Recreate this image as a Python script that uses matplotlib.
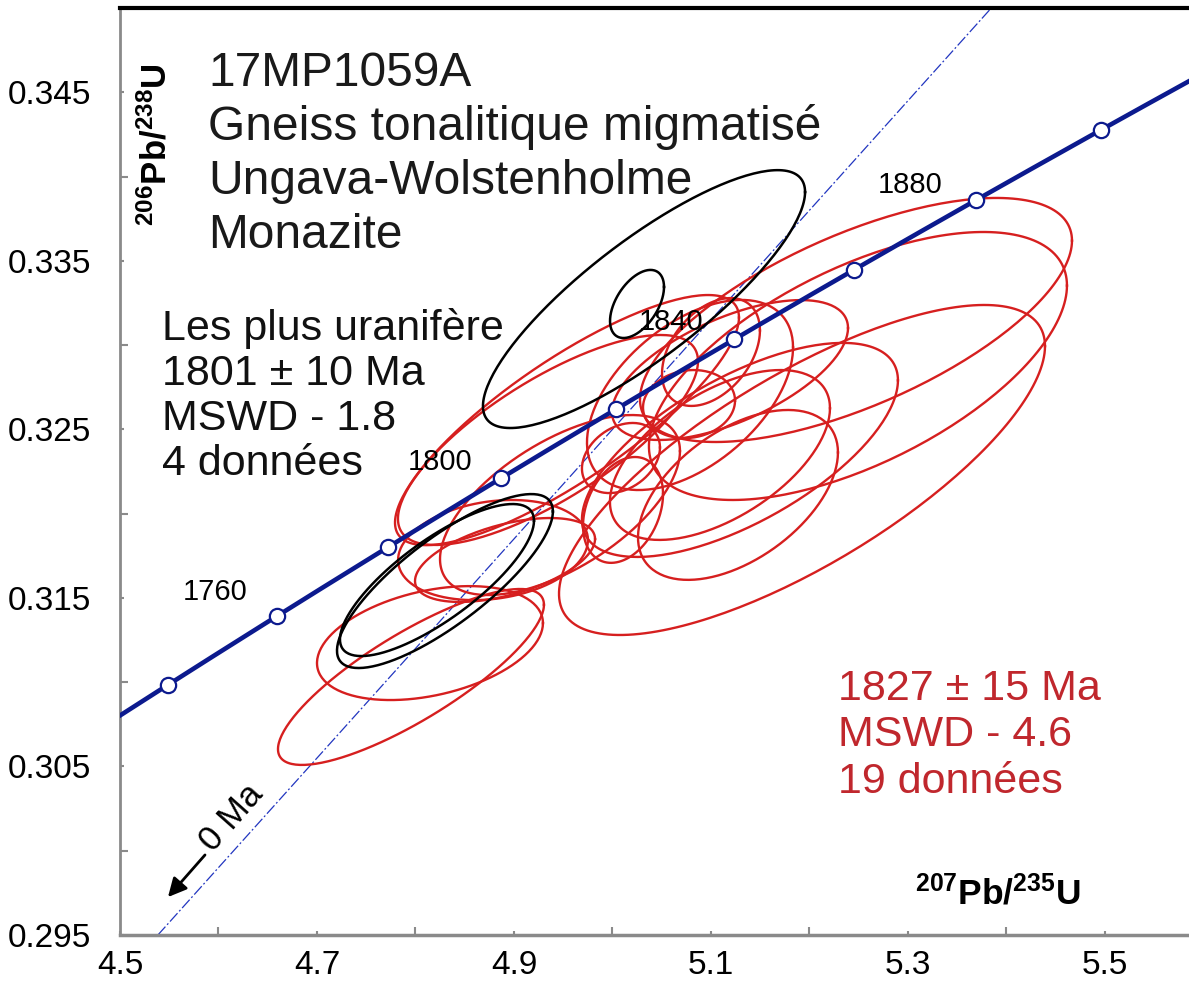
import numpy as np
import matplotlib
matplotlib.use("Agg")
import matplotlib.pyplot as plt
from matplotlib.ticker import FixedLocator

plt.rcParams['font.family'] = ['Liberation Sans', 'DejaVu Sans']
plt.rcParams['mathtext.fontset'] = 'custom'
plt.rcParams['mathtext.rm'] = 'Liberation Sans'
plt.rcParams['mathtext.bf'] = 'Liberation Sans:bold'

# Decay constants (1/yr)
LAMBDA_238 = 1.55125e-10
LAMBDA_235 = 9.8485e-10

# Concordia age markers (Ma)
marker_ages = [1740, 1760, 1780, 1800, 1820, 1840, 1860, 1880, 1900]
labelled_ages = [1760, 1800, 1840, 1880]

# Analyses: 207Pb/235U, error, 206Pb/238U, error, rho
# Most uraniferous group (black)
blk_x = [5.0320, 5.0249, 4.8299, 4.8218]
blk_sx = [0.1635, 0.0274, 0.1096, 0.0985]
blk_y = [0.33273, 0.33244, 0.31600, 0.31606]
blk_sy = [0.00765, 0.00202, 0.00516, 0.00451]
blk_rho = [0.83, 0.50, 0.80, 0.78]

# Main population (red)
red_x = [4.7954, 4.8147, 4.8787, 4.8909, 4.9538, 4.9345, 5.1000, 5.0777,
         5.0086, 5.0107, 5.1274, 5.2472, 5.2492, 5.1924, 5.1294, 5.1193,
         5.1091, 5.0787, 4.9467]
red_sx = [0.1350, 0.1147, 0.0964, 0.0914, 0.1746, 0.1523, 0.0497, 0.0467,
          0.0396, 0.0406, 0.1015, 0.2193, 0.2122, 0.2467, 0.1604, 0.1198,
          0.1117, 0.1046, 0.1218]
red_y = [0.31031, 0.31232, 0.31784, 0.31725, 0.32555, 0.32437, 0.32959,
         0.32650, 0.32330, 0.32022, 0.32111, 0.33149, 0.32876, 0.32259,
         0.32378, 0.32852, 0.32348, 0.32704, 0.32051]
red_sy = [0.00522, 0.00338, 0.00297, 0.00249, 0.00742, 0.00623, 0.00320,
          0.00202, 0.00208, 0.00314, 0.00504, 0.00724, 0.00795, 0.00979,
          0.00635, 0.00415, 0.00504, 0.00564, 0.00534]
red_rho = [0.82, 0.35, 0.20, 0.50, 0.82, 0.75, 0.40, 0.10, 0.30, 0.30, 0.50,
           0.65, 0.60, 0.75, 0.65, 0.60, 0.55, 0.50, 0.60]

# Slope of the chord toward 0 Ma
zero_age_slope = 0.0650

x_ticks = [4.5, 4.7, 4.9, 5.1, 5.3, 5.5]
y_ticks = [0.295, 0.305, 0.315, 0.325, 0.335, 0.345]

W, H = 1189, 989
AX_L, AX_T, AX_B = 120, 8, 935
fig = plt.figure(figsize=(W / 100, H / 100), dpi=100)
ax = fig.add_axes([AX_L / W, (H - AX_B) / H, 1 - AX_L / W, (AX_B - AX_T) / H])
ax.set_xlim(4.5, 5.5853)
ax.set_ylim(0.295, 0.350)


def concordia(t_ma):
    t = np.asarray(t_ma) * 1e6
    return np.exp(LAMBDA_235 * t) - 1, np.exp(LAMBDA_238 * t) - 1


def error_ellipse(cx, sx, cy, sy, rho, n=200):
    th = np.linspace(0, 2 * np.pi, n)
    ex = cx + sx * np.cos(th)
    ey = cy + sy * (rho * np.cos(th) + np.sqrt(1 - rho ** 2) * np.sin(th))
    return ex, ey


for cx, sx, cy, sy, r in zip(red_x, red_sx, red_y, red_sy, red_rho):
    ex, ey = error_ellipse(cx, sx, cy, sy, r)
    ax.plot(ex, ey, color='#d61f1f', lw=1.7, zorder=3)

for cx, sx, cy, sy, r in zip(blk_x, blk_sx, blk_y, blk_sy, blk_rho):
    ex, ey = error_ellipse(cx, sx, cy, sy, r)
    ax.plot(ex, ey, color='black', lw=1.8, zorder=4)

# chord to 0 Ma
ax.axline((0, 0), slope=zero_age_slope, color='#2236c0', lw=0.9,
          dashes=(9, 2, 1.5, 2), zorder=2)

# concordia curve
cx_line, cy_line = concordia(np.arange(1650, 1960, 1))
ax.plot(cx_line, cy_line, color='#0c1a8e', lw=3.3, zorder=5, solid_capstyle='butt')
mx, my = concordia(marker_ages)
ax.plot(mx, my, 'o', ms=11, mfc='white', mec='#0c1a8e', mew=1.6, zorder=6)

label_offsets = {1760: (-62, 24), 1800: (-61, 16), 1840: (-63, 17), 1880: (-66, 15)}
for age in labelled_ages:
    px, py = concordia(age)
    dx, dy = label_offsets[age]
    ax.annotate(str(age), (px, py), xytext=(dx, dy), textcoords='offset pixels',
                ha='center', va='center', fontsize=21, color='black', zorder=7)

# 0 Ma arrow and label
ax.annotate('', xy=(4.5487, 0.29725), xytext=(4.5863, 0.29975),
            arrowprops=dict(arrowstyle='-|>', color='black', lw=2.0,
                            mutation_scale=28, shrinkA=0, shrinkB=0), zorder=7)
ax.text(4.6137, 0.30194, '0 Ma', rotation=48.4, rotation_mode='anchor',
        ha='center', va='center', fontsize=25, zorder=7)

# spines and ticks
for side in ['left', 'bottom']:
    ax.spines[side].set_color('#8a8a8a')
ax.spines['left'].set_linewidth(2)
ax.spines['bottom'].set_linewidth(2.5)
ax.spines['top'].set_color('black')
ax.spines['top'].set_linewidth(3)
ax.spines['right'].set_visible(False)

ax.xaxis.set_major_locator(FixedLocator(x_ticks))
ax.xaxis.set_minor_locator(FixedLocator([4.6, 4.8, 5.0, 5.2, 5.4]))
ax.yaxis.set_major_locator(FixedLocator(y_ticks))
ax.yaxis.set_minor_locator(FixedLocator([0.300, 0.310, 0.320, 0.330, 0.340]))
ax.set_xticklabels([f'{v:.1f}' for v in x_ticks])
ax.set_yticklabels([f'{v:.3f}' for v in y_ticks])
ax.tick_params(which='both', direction='in', color='#8a8a8a', width=1.5,
               labelsize=24, labelcolor='black')
ax.tick_params(which='major', length=3)
ax.tick_params(which='minor', length=6)
ax.tick_params(axis='x', pad=11)
ax.tick_params(axis='y', pad=21)

# axis titles
ax_w, ax_h = W - AX_L, AX_B - AX_T
ax.text((156 - AX_L) / ax_w, 1 - (145 - AX_T) / ax_h, r'$\mathbf{^{206}Pb/^{238}U}$',
        transform=ax.transAxes, rotation=90, ha='center', va='center', fontsize=25)
ax.text((998 - AX_L) / ax_w, 1 - (893 - AX_T) / ax_h, r'$\mathbf{^{207}Pb/^{235}U}$',
        transform=ax.transAxes, ha='center', va='center', fontsize=25.5)


def fig_text(x, y, s, **kw):
    fig.text(x / W, 1 - y / H, s, **kw)


title_lines = ['17MP1059A', 'Gneiss tonalitique migmatisé', 'Ungava-Wolstenholme', 'Monazite']
for i, line in enumerate(title_lines):
    fig_text(208, 86 + 54 * i, line, fontsize=34.5, va='baseline', color='#1a1a1a')

black_lines = ['Les plus uranifère', '1801 ± 10 Ma', 'MSWD - 1.8', '4 données']
for i, line in enumerate(black_lines):
    fig_text(162, 340 + 45 * i, line, fontsize=31, va='baseline', color='#111111')

red_lines = ['1827 ± 15 Ma', 'MSWD - 4.6', '19 données']
for i, line in enumerate(red_lines):
    fig_text(838, 700 + 46.5 * i, line, fontsize=31, va='baseline', color='#c0272d')

fig.savefig('out.png', dpi=100)
